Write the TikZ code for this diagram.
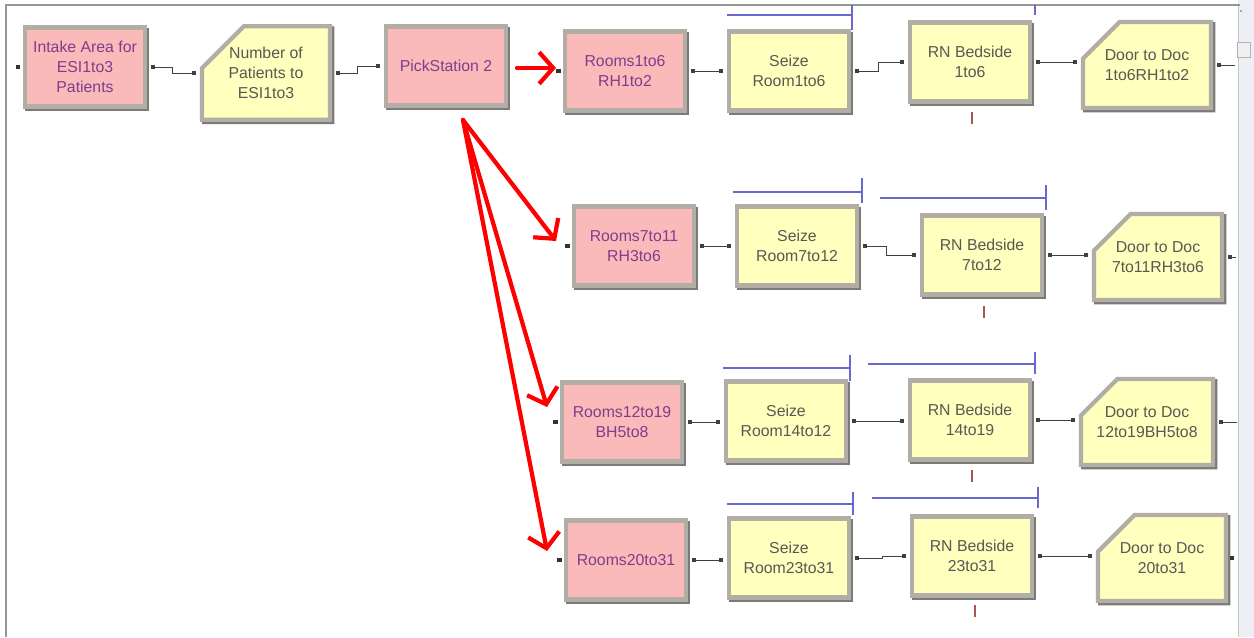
\documentclass[tikz,border=0pt]{standalone}
\usepackage{fontspec}
\setmainfont{Liberation Sans}
\usetikzlibrary{arrows.meta,shapes.misc,shadows,calc}
\definecolor{pinkfill}{RGB}{250,186,186}
\definecolor{yellowfill}{RGB}{255,255,190}
\definecolor{rimgray}{RGB}{178,174,166}
\definecolor{shadegray}{RGB}{122,122,120}
\definecolor{purpletext}{RGB}{125,62,140}
\definecolor{graytext}{RGB}{88,88,84}
\definecolor{resblue}{RGB}{105,105,205}
\definecolor{markred}{RGB}{170,85,85}
\definecolor{framegray}{RGB}{150,150,150}
\definecolor{scrollbg}{RGB}{236,239,244}
\tikzset{
  module/.style={rectangle, draw=rimgray, line width=2.4pt, inner sep=0pt,
    minimum width=2.4cm, minimum height=1.58cm, align=center,
    font=\fontsize{9}{11.4}\selectfont,
    general shadow={draw=shadegray, fill=shadegray, line width=2.4pt,
      shadow xshift=1.3pt, shadow yshift=-1.3pt}},
  pinkmod/.style={module, fill=pinkfill, text=purpletext},
  yellowmod/.style={module, fill=yellowfill, text=graytext},
  decidemod/.style={yellowmod, chamfered rectangle,
    chamfered rectangle corners=north west,
    chamfered rectangle xsep=0.42cm, chamfered rectangle ysep=0.42cm,
    minimum width=2.56cm, minimum height=1.72cm},
  conn/.style={draw=black!75, line width=0.55pt,
    {Square[length=2.4pt,width=2.4pt]}-{Square[length=2.4pt,width=2.4pt]}},
  outline/.style={draw=black!75, line width=0.55pt, -{Square[length=2.4pt,width=2.4pt]}},
  redarr/.style={draw=red, line width=2.4pt, line cap=round,
    -{Straight Barb[length=8pt,width=18pt,line width=2.4pt]}},
  resline/.style={draw=resblue, line width=0.8pt},
  qmark/.style={draw=markred, line width=1.3pt},
  dotmark/.style={fill=black!80}
}
\begin{document}
\begin{tikzpicture}[x=0.02cm, y=-0.02cm]
\useasboundingbox (0,0) rectangle (1254,637);
\fill[white] (0,0) rectangle (1254,637);
% window frame and scroll strip
\fill[scrollbg] (1238,0) rectangle (1254,637);
\draw[gray!45, line width=0.5pt] (1238,5) -- (1238,637);
\draw[gray!60, fill=gray!12, line width=0.5pt] (1237,42) rectangle (1250,57);
\draw[gray!70, line width=0.8pt] (1240,11) -- (1242,11);
\draw[framegray, line width=1.2pt] (6,637) -- (6,5) -- (1240,5);

% resource / queue graphics
\draw[resline] (727,15) -- (852,15) (852,5) -- (852,30);
\draw[resline] (1035,5) -- (1035,15);
\draw[resline] (733,192) -- (862,192) (862,178) -- (862,203);
\draw[resline] (880,198) -- (1046,198) (1046,185) -- (1046,210);
\draw[resline] (723,368) -- (850,368) (850,355) -- (850,381);
\draw[resline] (868,364) -- (1035,364) (1035,352) -- (1035,374);
\draw[resline] (727,504) -- (853,504) (853,492) -- (853,515);
\draw[resline] (872,498) -- (1038,498) (1038,487) -- (1038,508);

% modules row 1
\node[pinkmod] (intake) at (85,67) {Intake Area for\\ESI1to3\\Patients};
\node[decidemod] (num) at (266,73) {Number of\\Patients to\\ESI1to3};
\node[pinkmod] (pick) at (446,66) {PickStation 2};
\node[pinkmod] (r1) at (625,71) {Rooms1to6\\RH1to2};
\node[yellowmod] (s1) at (789,71) {Seize\\Room1to6};
\node[yellowmod] (b1) at (970,62) {RN Bedside\\1to6};
\node[decidemod] (d1) at (1147,65) {Door to Doc\\1to6RH1to2};
% row 2
\node[pinkmod] (r2) at (634,246) {Rooms7to11\\RH3to6};
\node[yellowmod] (s2) at (797,246) {Seize\\Room7to12};
\node[yellowmod] (b2) at (982,255) {RN Bedside\\7to12};
\node[decidemod] (d2) at (1158,257) {Door to Doc\\7to11RH3to6};
% row 3
\node[pinkmod] (r3) at (622,422) {Rooms12to19\\BH5to8};
\node[yellowmod] (s3) at (786,421) {Seize\\Room14to12};
\node[yellowmod] (b3) at (970,420) {RN Bedside\\14to19};
\node[decidemod] (d3) at (1147,422) {Door to Doc\\12to19BH5to8};
% row 4
\node[pinkmod] (r4) at (626,560) {Rooms20to31};
\node[yellowmod] (s4) at (789,558) {Seize\\Room23to31};
\node[yellowmod] (b4) at (972,556) {RN Bedside\\23to31};
\node[decidemod] (d4) at (1162,558) {Door to Doc\\20to31};

% small marks under RN Bedside
\draw[qmark] (972,112) -- (972,124);
\draw[qmark] (984,306) -- (984,318);
\draw[qmark] (972,470) -- (972,482);
\draw[qmark] (975,605) -- (975,617);

% input points
\coordinate (intin) at ($(intake.west)+(-3pt,0)$);
\fill[dotmark] ($(intin)+(-1.2pt,-1.2pt)$) rectangle ($(intin)+(1.2pt,1.2pt)$);
\coordinate (r1in) at ($(r1.west)+(-2.5pt,0)$);
\coordinate (r2in) at ($(r2.west)+(-2.5pt,0)$);
\coordinate (r3in) at ($(r3.west)+(-2.5pt,0)$);
\coordinate (r4in) at ($(r4.west)+(-2.5pt,0)$);
\foreach \c in {r1in,r2in,r3in,r4in}
  \fill[dotmark] ($(\c)+(-1.2pt,-1.2pt)$) rectangle ($(\c)+(1.2pt,1.2pt)$);

% connectors row 1
\draw[conn] ([xshift=2pt]intake.east) -- ++(22,0) |- ([xshift=-2pt]num.west);
\draw[conn] ([xshift=2pt]num.east) -- ++(22,0) |- ([xshift=-2pt]pick.west);
\draw[conn] ([xshift=2pt]r1.east) -- ($(r1.east -| s1.west)+(-2pt,0)$);
\draw[conn] ([xshift=2pt]s1.east) -- ++(24,0) |- ([xshift=-2pt]b1.west);
\draw[conn] ([xshift=2pt]b1.east) -- ($(b1.east -| d1.west)+(-2pt,0)$);
\coordinate (d1out) at ($(d1.east)+(22,0)$);
\draw[outline] (d1out) -- ([xshift=2pt]d1.east);
% row 2
\draw[conn] ([xshift=2pt]r2.east) -- ($(r2.east -| s2.west)+(-2pt,0)$);
\draw[conn] ([xshift=2pt]s2.east) -- ++(24,0) |- ([xshift=-2pt]b2.west);
\draw[conn] ([xshift=2pt]b2.east) -- ($(b2.east -| d2.west)+(-2pt,0)$);
\coordinate (d2out) at ($(d2.east)+(12,0)$);
\draw[outline] (d2out) -- ([xshift=2pt]d2.east);
% row 3
\draw[conn] ([xshift=2pt]r3.east) -- ($(r3.east -| s3.west)+(-2pt,0)$);
\draw[conn] ([xshift=2pt]s3.east) -- ($(s3.east -| b3.west)+(-2pt,0)$);
\draw[conn] ([xshift=2pt]b3.east) -- ($(b3.east -| d3.west)+(-2pt,0)$);
\coordinate (d3out) at ($(d3.east)+(22,0)$);
\draw[outline] (d3out) -- ([xshift=2pt]d3.east);
% row 4
\draw[conn] ([xshift=2pt]r4.east) -- ($(r4.east -| s4.west)+(-2pt,0)$);
\draw[conn] ([xshift=2pt]s4.east) -- ++(28,0) |- ([xshift=-2pt]b4.west);
\draw[conn] ([xshift=2pt]b4.east) -- ($(b4.east -| d4.west)+(-2pt,0)$);
\coordinate (d4dot) at ($(d4.east)+(2pt,0)$);
\fill[dotmark] ($(d4dot)+(-1.2pt,-1.2pt)$) rectangle ($(d4dot)+(1.2pt,1.2pt)$);

% red arrows from PickStation 2
\coordinate (pkright) at (517,68);
\coordinate (pkdown) at (463,120);
\coordinate (t1) at (556,68);
\coordinate (t2) at (556,241);
\coordinate (t3) at (547,407);
\coordinate (t4) at (547,551);
\draw[redarr] (pkright) -- (t1);
\draw[redarr] (pkdown) -- (t2);
\draw[redarr] (pkdown) -- (t3);
\draw[redarr] (pkdown) -- (t4);
\end{tikzpicture}
\end{document}
